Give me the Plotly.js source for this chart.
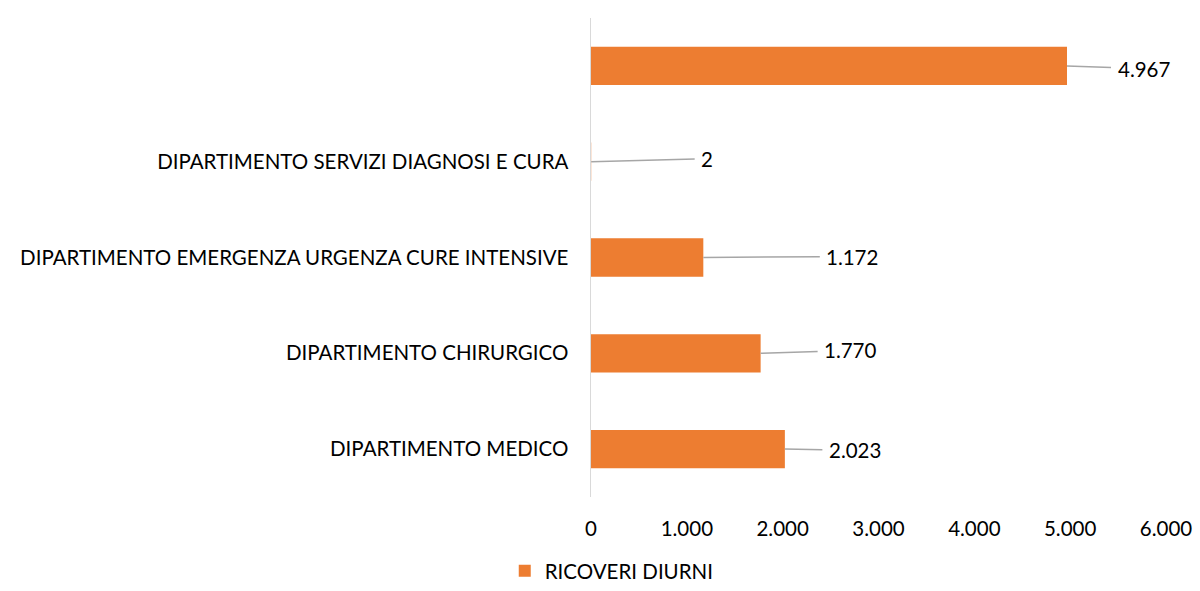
<!DOCTYPE html>
<html>
<head>
<meta charset="utf-8">
<script src="https://cdn.plot.ly/plotly-3.0.1.min.js"></script>
<style>html,body{margin:0;padding:0;background:#fff;}#chart{width:1200px;height:591px;}</style>
</head>
<body>
<div id="chart"></div>
<script>
const categories = [
  "DIPARTIMENTO MEDICO",
  "DIPARTIMENTO CHIRURGICO",
  "DIPARTIMENTO EMERGENZA URGENZA CURE INTENSIVE",
  "DIPARTIMENTO SERVIZI DIAGNOSI E CURA",
  " "
];
const ricoveriDiurni = [2023, 1770, 1172, 2, 4967];
const seriesName = "RICOVERI DIURNI";
const tickValues = [0, 1000, 2000, 3000, 4000, 5000, 6000];
const labelOffsetsX = [70, 90, 149, 116, 77];
const labelOffsetsY = [1, -3, -1, -3, 3];

function fmt(v) {
  return String(v).replace(/\B(?=(\d{3})+(?!\d))/g, ".");
}

const FONT = "Lato, 'Open Sans', sans-serif";
const FS = 20.5;

const trace = {
  type: "bar",
  orientation: "h",
  x: ricoveriDiurni,
  y: categories,
  name: seriesName,
  marker: { color: "#ED7D31" },
  showlegend: true,
  hoverinfo: "x+y"
};

const annotations = ricoveriDiurni.map((v, i) => ({
  x: v,
  y: categories[i],
  xref: "x",
  yref: "y",
  text: fmt(v),
  showarrow: true,
  arrowhead: 0,
  arrowwidth: 1.5,
  arrowcolor: "#a6a6a6",
  ax: labelOffsetsX[i],
  ay: labelOffsetsY[i],
  standoff: 0,
  borderpad: 6,
  font: { family: FONT, size: FS, color: "#000" }
}));

const layout = {
  width: 1200,
  height: 591,
  margin: { l: 591, r: 34, t: 18, b: 94 },
  paper_bgcolor: "#fff",
  plot_bgcolor: "#fff",
  font: { family: FONT, size: FS, color: "#000" },
  separators: ",.",
  bargap: 0.6,
  xaxis: {
    range: [0, 6000],
    tickvals: tickValues,
    ticktext: tickValues.map(fmt),
    showgrid: false,
    zeroline: false,
    showline: false,
    ticks: "",
    ticklabelstandoff: 17,
    fixedrange: true,
    automargin: false,
    tickfont: { family: FONT, size: FS, color: "#000" }
  },
  yaxis: {
    type: "category",
    categoryorder: "array",
    categoryarray: categories,
    showgrid: false,
    zeroline: false,
    showline: true,
    linecolor: "#d9d9d9",
    linewidth: 1.5,
    ticks: "",
    ticklabelstandoff: 17,
    fixedrange: true,
    automargin: false,
    tickfont: { family: FONT, size: FS, color: "#000" }
  },
  legend: {
    orientation: "h",
    xref: "paper",
    x: -0.15,
    xanchor: "left",
    yref: "container",
    y: 0,
    yanchor: "bottom",
    font: { family: FONT, size: FS, color: "#000" },
    itemwidth: 30
  },
  annotations: annotations,
  showlegend: true
};

Plotly.newPlot("chart", [trace], layout, { displayModeBar: false, staticPlot: true });
</script>
</body>
</html>
